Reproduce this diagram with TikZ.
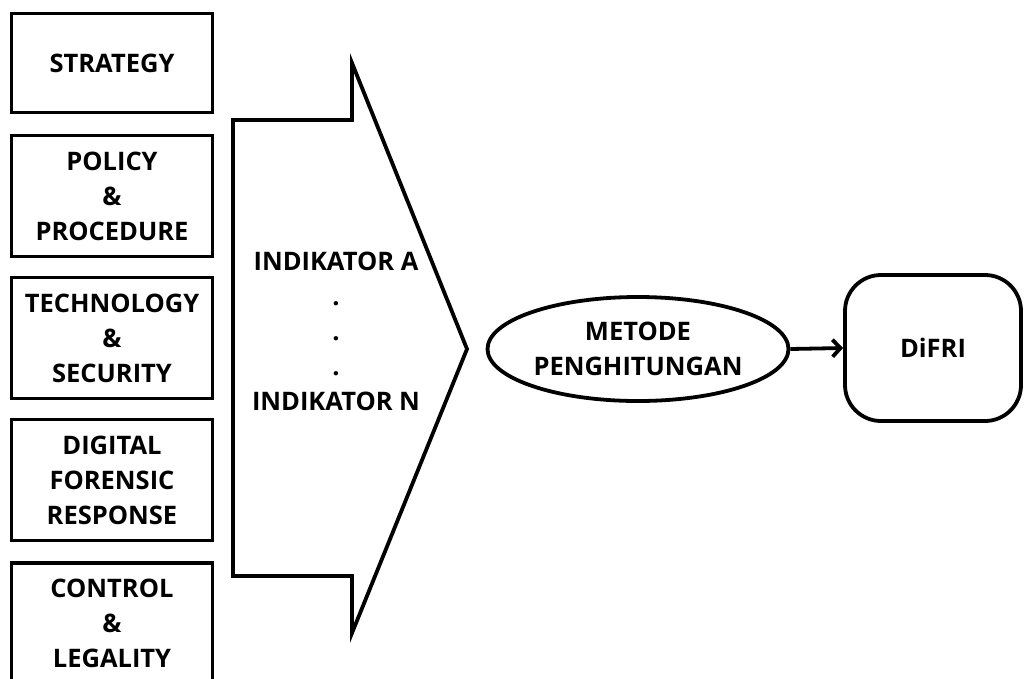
\documentclass[tikz,border=0pt]{standalone}
\usepackage{fontspec}
\setmainfont{Open Sans}
\usetikzlibrary{shapes.geometric,arrows.meta}
\begin{document}
\begin{tikzpicture}[x=1pt,y=-1pt,
  lbl/.style={font=\bfseries\fontsize{25.5}{35}\selectfont,align=center,inner sep=0pt},
  catbox/.style={draw,line width=3.8pt,minimum width=201pt,inner sep=0pt},
  every path/.style={line width=3.8pt}]
\useasboundingbox (0,0) rectangle (1024,678);
% left category boxes
\node[catbox,minimum height=99pt] (b1) at (112,63) {};
\node[lbl] (t1) at (b1.center) {STRATEGY};
\node[catbox,minimum height=121pt] (b2) at (112,196) {};
\node[lbl] (t2) at (b2.center) {POLICY\\\&\\PROCEDURE};
\node[catbox,minimum height=121pt] (b3) at (112,338) {};
\node[lbl] (t3) at (b3.center) {TECHNOLOGY\\\&\\SECURITY};
\node[catbox,minimum height=121pt] (b4) at (112,480) {};
\node[lbl] (t4) at (b4.center) {DIGITAL\\FORENSIC\\RESPONSE};
\node[catbox,minimum height=130pt] (b5) at (112,628) {};
\node[lbl] (t5) at (112,623) {CONTROL\\\&\\LEGALITY};
% big arrow
\draw[line join=miter] (233,120) -- (352,120) -- (352,63) -- (467,349) -- (352,633) -- (352,576) -- (233,576) -- cycle;
\node[lbl] (ind) at (336,331) {INDIKATOR A\\.\\.\\.\\INDIKATOR N};
% ellipse
\node[draw,ellipse,line width=3.8pt,minimum width=301pt,minimum height=104pt,inner sep=0pt] (met) at (638,349) {};
\node[lbl] (mt) at (met.center) {METODE\\PENGHITUNGAN};
% DiFRI
\node[draw,rounded corners=36pt,line width=3.8pt,minimum width=176pt,minimum height=146pt,inner sep=0pt] (dif) at (933,348) {};
\node[lbl] (dt) at (dif.center) {DiFRI};
\draw[-{Straight Barb[length=8pt,width=17pt]}] (met.east) -- (dif.west);
\end{tikzpicture}
\end{document}
